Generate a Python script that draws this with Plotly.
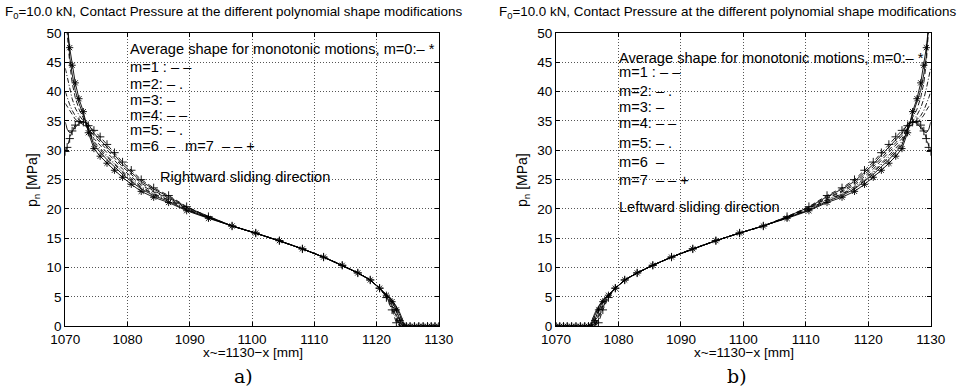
import plotly.graph_objects as go

W, H = 961, 388

# ---------------- data ----------------
x_ticks = [1070, 1080, 1090, 1100, 1110, 1120, 1130]
y_ticks = [0, 5, 10, 15, 20, 25, 30, 35, 40, 45, 50]

# node positions, panel a (rightward sliding)
x_a = [1070, 1070.3, 1070.7, 1071.1, 1071.6, 1072.2, 1072.9, 1073.7, 1074.6, 1075.6,
       1076.7, 1077.9, 1079.2, 1080.6, 1082.2, 1084.2, 1086.6, 1089.5, 1093, 1096.8,
       1100.6, 1104.4, 1108.1, 1111.5, 1114.5, 1117, 1119, 1120.5, 1121.6, 1122.5,
       1123.2, 1123.8, 1124.3, 1124.8, 1125.4, 1126.1, 1126.8, 1127.5, 1128.2, 1128.8,
       1129.4, 1130]

# node positions, panel b (leftward sliding)
x_b = [1070, 1070.6, 1071.2, 1071.8, 1072.5, 1073.2, 1073.9, 1074.6, 1075.2, 1075.7,
       1076.2, 1076.8, 1077.5, 1078.4, 1079.5, 1081, 1083, 1085.5, 1088.5, 1091.9,
       1095.6, 1099.4, 1103.2, 1107, 1110.5, 1113.4, 1115.8, 1117.8, 1119.4, 1120.8,
       1122.1, 1123.3, 1124.4, 1125.4, 1126.3, 1127.1, 1127.8, 1128.4, 1128.9, 1129.3,
       1129.7, 1130]

# contact pressure [MPa] for m = 0..7, panel a (x_a order)
p_m0 = [58, 51.5, 47.5, 44.5, 41.5, 38.8, 36.6, 33.0, 30.3, 29.0, 27.8, 26.6, 25.4, 24.2,
        23.0, 22.0, 21.1, 19.7, 18.4, 17.1, 15.9, 14.6, 13.2, 11.8, 10.4, 9.1, 7.9, 6.5,
        5.3, 4.2, 2.8, 1.0, 0, 0, 0, 0, 0, 0, 0, 0, 0, 0]
p_m1 = [56, 50, 45, 41.5, 39.0, 37.0, 35.5, 34.0, 32.0, 30.8, 29.6, 28.3, 26.8, 25.5,
        24.1, 22.9, 21.8, 20.1, 18.6, 17.1, 15.9, 14.6, 13.2, 11.8, 10.4, 9.1, 7.9, 6.5,
        5.2, 3.8, 2.0, 0, 0, 0, 0, 0, 0, 0, 0, 0, 0, 0]
p_m2 = [44, 42.5, 40.5, 38.8, 37.2, 36.0, 35.0, 33.8, 31.5, 30.3, 29.1, 27.8, 26.4, 25.2,
        23.8, 22.6, 21.6, 20.0, 18.5, 17.1, 15.9, 14.6, 13.2, 11.8, 10.4, 9.1, 7.9, 6.5,
        5.0, 3.2, 1.2, 0, 0, 0, 0, 0, 0, 0, 0, 0, 0, 0]
p_m3 = [57, 52, 46, 43, 40.2, 38.0, 36.0, 33.5, 30.9, 29.7, 28.4, 27.2, 25.9, 24.7,
        23.4, 22.3, 21.3, 19.8, 18.5, 17.1, 15.9, 14.6, 13.2, 11.8, 10.4, 9.1, 7.9, 6.5,
        5.4, 4.4, 3.2, 1.8, 0.3, 0, 0, 0, 0, 0, 0, 0, 0, 0]
p_m4 = [38, 37.5, 36.8, 36.0, 35.3, 34.8, 34.4, 33.9, 32.5, 31.3, 30.0, 28.7, 27.2, 25.9,
        24.4, 23.1, 21.9, 20.2, 18.6, 17.1, 15.9, 14.6, 13.2, 11.8, 10.4, 9.1, 7.9, 6.5,
        5.1, 3.5, 1.6, 0, 0, 0, 0, 0, 0, 0, 0, 0, 0, 0]
p_m5 = [40, 39.0, 37.8, 36.8, 35.9, 35.2, 34.6, 33.6, 31.2, 30.0, 28.8, 27.5, 26.2, 24.9,
        23.6, 22.5, 21.5, 19.9, 18.5, 17.1, 15.9, 14.6, 13.2, 11.8, 10.4, 9.1, 7.9, 6.5,
        5.3, 4.1, 2.6, 0.8, 0, 0, 0, 0, 0, 0, 0, 0, 0, 0]
p_m6 = [34.8, 33.6, 33.0, 33.2, 33.9, 34.6, 34.9, 34.5, 32.9, 31.8, 30.5, 29.2, 27.6, 26.2,
        24.7, 23.4, 22.1, 20.3, 18.7, 17.1, 15.9, 14.6, 13.2, 11.8, 10.4, 9.1, 7.9, 6.5,
        5.4, 4.5, 3.4, 2.2, 0.8, 0, 0, 0, 0, 0, 0, 0, 0, 0]
p_m7 = [29.8, 30.5, 32.0, 33.3, 34.3, 34.9, 34.8, 34.2, 33.4, 32.3, 31.0, 29.6, 28.0, 26.6,
        25.0, 23.6, 22.3, 20.4, 18.7, 17.1, 15.9, 14.6, 13.2, 11.8, 10.4, 9.1, 7.9, 6.5,
        4.9, 2.8, 0.6, 0, 0, 0, 0, 0, 0, 0, 0, 0, 0, 0]

series_a = [p_m0, p_m1, p_m2, p_m3, p_m4, p_m5, p_m6, p_m7]
# leftward sliding is the mirror image: same nodal values in reverse node order
series_b = [list(reversed(s)) for s in series_a]

title_text = "F<sub>0</sub>=10.0 kN, Contact Pressure at the different polynomial shape modifications"
xlabel = "x~=1130\u2212x [mm]"
ylabel = "p<sub>n</sub> [MPa]"

legend_a = ["Average shape for monotonic motions, m=0:\u2013 *", "m=1 : \u2013 \u2013", "m=2: \u2013 .",
            "m=3: \u2013", "m=4: \u2013 \u2013", "m=5: \u2013 .", "m=6  \u2013", "m=7  \u2013 \u2013 +",
            "Rightward sliding direction"]
legend_b = ["Average shape for monotonic motions, m=0:\u2013 *", "m=1 : \u2013 \u2013", "m=2: \u2013 .",
            "m=3: \u2013", "m=4: \u2013 \u2013", "m=5: \u2013 .", "m=6  \u2013", "m=7  \u2013 \u2013 +",
            "Leftward sliding direction"]

# ---------------- styling ----------------
dashes = ["solid", "5px,3px", "5px,2px,1px,2px", "solid", "5px,3px", "5px,2px,1px,2px", "solid", "5px,3px"]
symbols = ["asterisk-open", None, None, None, None, None, None, "cross-thin-open"]

FONT = "Liberation Sans, Arial, Helvetica, sans-serif"

fig = go.Figure()

for xs, series, xa, ya in [(x_a, series_a, "x", "y"), (x_b, series_b, "x2", "y2")]:
    for i, ys in enumerate(series):
        mode = "lines+markers" if symbols[i] else "lines"
        kw = dict(marker=dict(symbol=symbols[i], size=6, color="black",
                              line=dict(color="black", width=0.9))) if symbols[i] else {}
        fig.add_trace(go.Scatter(x=xs, y=ys, mode=mode, xaxis=xa, yaxis=ya,
                                 line=dict(color="black", width=0.9, dash=dashes[i]),
                                 showlegend=False, hoverinfo="skip", **kw))

dom_a = [65.3 / W, 438.7 / W]
dom_b = [556.0 / W, 930.7 / W]
dom_y = [1 - 326.3 / H, 1 - 33.0 / H]

ax_common = dict(showline=True, linecolor="black", linewidth=1.2, mirror="allticks",
                 ticks="inside", ticklen=4, tickcolor="black", tickwidth=1,
                 showgrid=True, gridcolor="#555", griddash="1px,2px", gridwidth=0.8,
                 zeroline=False, automargin=False,
                 tickfont=dict(family=FONT, size=13.5, color="black"))

fig.update_layout(
    width=W, height=H, margin=dict(l=0, r=0, t=0, b=0, autoexpand=False),
    paper_bgcolor="white", plot_bgcolor="white", showlegend=False,
    xaxis=dict(domain=dom_a, range=[1070, 1130], tickvals=x_ticks, anchor="y", **ax_common),
    yaxis=dict(domain=dom_y, range=[0, 50], tickvals=y_ticks, anchor="x", **ax_common),
    xaxis2=dict(domain=dom_b, range=[1070, 1130], tickvals=x_ticks, anchor="y2", **ax_common),
    yaxis2=dict(domain=dom_y, range=[0, 50], tickvals=y_ticks, anchor="x2", **ax_common),
)

def px(v):
    return v / W

def py(v):
    return 1 - v / H

ann = []
def txt(text, x, y, size=14.6, xanchor="left", family=FONT, angle=0):
    ann.append(dict(text=text, x=px(x), y=py(y), xref="paper", yref="paper",
                    xanchor=xanchor, yanchor="middle", showarrow=False, textangle=angle,
                    borderpad=0, font=dict(family=family, size=size, color="black")))

# titles
txt(title_text, 4, 13, size=13.4)
txt(title_text, 498, 13, size=13.4)
# axis titles
txt(xlabel, 253, 352, size=13.5, xanchor="center")
txt(xlabel, 744, 352, size=13.5, xanchor="center")
txt(ylabel, 33, 180, size=14, xanchor="center", angle=-90)
txt(ylabel, 523, 180, size=14, xanchor="center", angle=-90)
# sub-figure labels
txt("a)", 244, 376, size=19, xanchor="center", family="DejaVu Serif, Liberation Serif, serif")
txt("b)", 737, 376, size=19, xanchor="center", family="DejaVu Serif, Liberation Serif, serif")

# in-plot texts panel a
rows_a = [49, 67, 84, 100, 115, 130, 146]
for t, yy in zip(legend_a[:7], rows_a):
    txt(t, 129, yy)
txt(legend_a[7], 184, 146)
txt(legend_a[8], 159, 177)

# in-plot texts panel b
rows_b = [58, 72, 91, 107, 123, 143, 162, 180, 207]
for t, yy in zip(legend_b, rows_b):
    txt(t, 618, yy)

fig.update_layout(annotations=ann)

fig.write_html("out.html")
